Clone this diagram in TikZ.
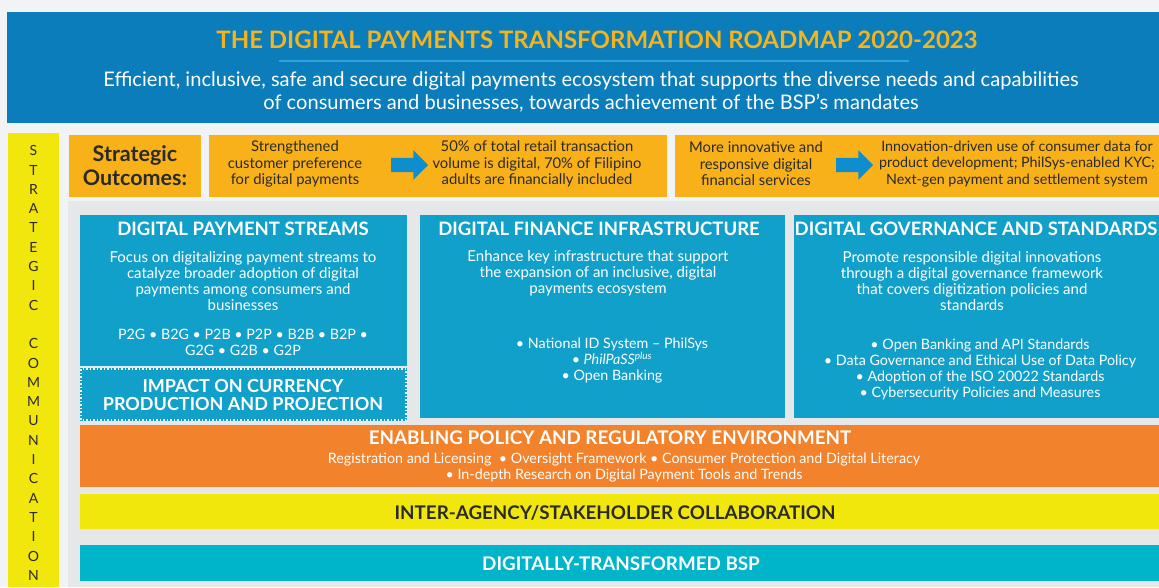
\documentclass[tikz,border=0pt]{standalone}
\usepackage{fontspec}
\setmainfont{Lato}
\usetikzlibrary{shapes.arrows}

\definecolor{pagegray}{HTML}{F2F3F5}
\definecolor{bannerblue}{HTML}{0A7DBA}
\definecolor{titleyellow}{HTML}{F7B31A}
\definecolor{rulecyan}{HTML}{2BA3DC}
\definecolor{colyellow}{HTML}{F2E70C}
\definecolor{outorange}{HTML}{F9B11A}
\definecolor{arrowblue}{HTML}{0E8ECF}
\definecolor{panelgray}{HTML}{E6E7E9}
\definecolor{streamblue}{HTML}{11A0C9}
\definecolor{bandorange}{HTML}{F2822B}
\definecolor{bandcyan}{HTML}{00B5C9}
\definecolor{darkink}{HTML}{2A2A2A}

\tikzset{
	outtxt/.style={text=darkink, align=center, inner sep=0, font=\fontsize{14.8}{16.5}\selectfont},
	boxhead/.style={text=white, inner sep=0, font=\fontsize{18.5}{19}\bfseries\selectfont},
	boxtxt/.style={text=white, align=center, inner sep=0, font=\fontsize{15}{16}\selectfont},
	boxlist/.style={boxtxt, font=\fontsize{14.3}{16}\selectfont},
	pusharrow/.style={single arrow, fill=arrowblue, inner sep=7pt, minimum height=37pt,
		minimum width=29pt, single arrow head extend=7.5pt},
	commletter/.style={text=darkink, inner sep=0, font=\fontsize{14}{14}\selectfont}
}

\begin{document}
\begin{tikzpicture}[x=1pt, y=-1pt]
	%%%%% START %%%%%
	\useasboundingbox (0,0) rectangle (1159,587);
	\fill[pagegray] (0,0) rectangle (1159,587);
	
	% banner
	\fill[bannerblue] (7,12) rectangle (1159,123);
	\node[text=titleyellow, inner sep=0, font=\fontsize{24}{26}\bfseries\selectfont] (title) at (597,40)
		{THE DIGITAL PAYMENTS TRANSFORMATION ROADMAP 2020-2023};
	\draw[rulecyan, line width=1.2pt] (279,61) -- (909,61);
	\node[text=white, align=center, inner sep=0, font=\fontsize{20.1}{23}\selectfont] (vision) at (591,92)
		{Efficient, inclusive, safe and secure digital payments ecosystem that supports the diverse needs and capabilities\\
		of consumers and businesses, towards achievement of the BSP’s mandates};
	
	% strategic communication column
	\fill[colyellow] (8,133) rectangle (59,587);
	\foreach \ch [count=\i] in {S,T,R,A,T,E,G,I,C,{},C,O,M,M,U,N,I,C,A,T,I,O,N}
		\node[commletter] (sc\i) at (33.5,{150.7+19.3*(\i-1)}) {\ch};
	
	% strategic outcomes
	\fill[outorange] (69,135) rectangle (201,197);
	\fill[outorange] (209,135) rectangle (667,197);
	\fill[outorange] (675,135) rectangle (1159,197);
	\node[text=darkink, align=center, inner sep=0, font=\fontsize{21.5}{24}\bfseries\selectfont] (outhead) at (135,166)
		{Strategic\\Outcomes:};
	\node[outtxt] (out1) at (295,164) {Strengthened\\customer preference\\for digital payments};
	\node[pusharrow] (arr1) at (406,165) {};
	\node[outtxt] (out2) at (537,164) {50\% of total retail transaction\\volume is digital, 70\% of Filipino\\adults are financially included};
	\node[outtxt] (out3) at (756,164) {More innovative and\\responsive digital\\financial services};
	\node[pusharrow] (arr2) at (851,165) {};
	\node[outtxt, font=\fontsize{14.3}{16.5}\selectfont] (out4) at (1017,164) {Innovation-driven use of consumer data for\\product development; PhilSys-enabled KYC;\\Next-gen payment and settlement system};
	
	% pillars
	\fill[panelgray] (68,201) rectangle (1159,587);
	\fill[streamblue] (80,215) rectangle (407,366);
	\fill[streamblue] (80,368) rectangle (407,421);
	\draw[white, dotted, line width=1.5pt] (81,369) rectangle (406,420);
	\fill[streamblue] (420,215) rectangle (785,418);
	\fill[streamblue] (794,215) rectangle (1159,418);
	
	\node[boxhead] (dpshead) at (243,229) {DIGITAL PAYMENT STREAMS};
	\node[boxtxt] (dpstxt) at (243,281) {Focus on digitalizing payment streams to\\catalyze broader adoption of digital\\payments among consumers and\\businesses};
	\node[boxlist] (dpslist) at (243,342) {P2G • B2G • P2B • P2P • B2B • B2P •\\G2G • G2B • G2P};
	\node[boxhead, align=center, font=\fontsize{18}{18.5}\bfseries\selectfont] (impact) at (243,395)
		{IMPACT ON CURRENCY\\PRODUCTION AND PROJECTION};
	
	\node[boxhead] (dfihead) at (599,229) {DIGITAL FINANCE INFRASTRUCTURE};
	\node[boxtxt] (dfitxt) at (598,273) {Enhance key infrastructure that support\\the expansion of an inclusive, digital\\payments ecosystem};
	\node[boxlist] (dfilist) at (612,361) {• National ID System – PhilSys\\• \textit{PhilPaSS}\textsuperscript{\textit{plus}}\\• Open Banking};
	
	\node[boxhead] (dgshead) at (976,229) {DIGITAL GOVERNANCE AND STANDARDS};
	\node[boxtxt] (dgstxt) at (972,281) {Promote responsible digital innovations\\through a digital governance framework\\that covers digitization policies and\\standards};
	\node[boxlist] (dgslist) at (980,369) {• Open Banking and API Standards\\• Data Governance and Ethical Use of Data Policy\\• Adoption of the ISO 20022 Standards\\• Cybersecurity Policies and Measures};
	
	% foundation bands
	\fill[bandorange] (80,425) rectangle (1159,487);
	\node[boxhead, font=\fontsize{18.8}{19}\bfseries\selectfont] (policyhead) at (610,438) {ENABLING POLICY AND REGULATORY ENVIRONMENT};
	\node[boxlist] (policytxt) at (624,468) {Registration and Licensing~ • Oversight Framework • Consumer Protection and Digital Literacy\\• In-depth Research on Digital Payment Tools and Trends};
	
	\fill[colyellow] (80,494) rectangle (1159,529);
	\node[boxhead, text=darkink, font=\fontsize{18.8}{19}\bfseries\selectfont] (collab) at (615,513) {INTER-AGENCY/STAKEHOLDER COLLABORATION};
	
	\fill[bandcyan] (80,545) rectangle (1159,581);
	\node[boxhead, font=\fontsize{18.8}{19}\bfseries\selectfont] (bsp) at (621,564) {DIGITALLY-TRANSFORMED BSP};
	%%%%% END %%%%%
\end{tikzpicture}
\end{document}
